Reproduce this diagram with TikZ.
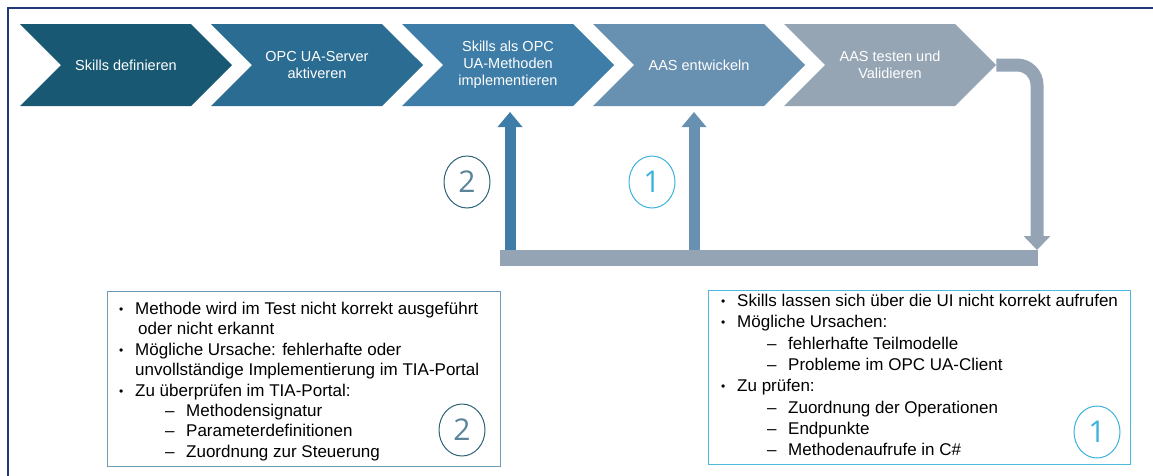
\documentclass[tikz,border=0pt]{standalone}
\usepackage{fontspec}
\setmainfont{Liberation Sans}
\newfontfamily\numfont{Open Sans}
\usepackage{xcolor}
\usepackage{tikz}
\usetikzlibrary{positioning, arrows.meta, shapes.symbols, shapes.geometric}

\definecolor{frameblue}{HTML}{1F3B7A}
\definecolor{chevA}{HTML}{185872}
\definecolor{chevB}{HTML}{2A6C92}
\definecolor{chevC}{HTML}{3E7DA7}
\definecolor{chevD}{HTML}{6890B0}
\definecolor{chevE}{HTML}{96A5B4}
\definecolor{loopgray}{HTML}{94A4B4}
\definecolor{ringdark}{HTML}{2E6276}
\definecolor{ringdarktext}{HTML}{5A8497}
\definecolor{ringcyan}{HTML}{3DB2DC}
\definecolor{boxsteel}{HTML}{6B9BB7}
\definecolor{boxcyan}{HTML}{4FB8DD}

\newcommand{\bul}[1]{\makebox[17pt][l]{\hspace*{1pt}\raisebox{1pt}{\fontsize{12}{12}\selectfont\textbullet}}#1}
\newcommand{\dsh}[1]{\hspace*{47pt}\makebox[21pt][l]{--}#1}

\begin{document}
\begin{tikzpicture}[x=1pt, y=-1pt,
  chev/.style={signal, signal to=east, signal from=west, minimum width=212pt,
    minimum height=82pt, inner sep=0pt, text=white, align=center,
    font=\fontsize{14.5}{16.8}\selectfont},
  loopline/.style={draw=loopgray, line width=13pt, rounded corners=20pt},
  barline/.style={draw=loopgray, line width=16pt},
  uparrow/.style={line width=11pt, -{Triangle[width=24pt,length=15pt]}},
  ring/.style={ellipse, draw, line width=1pt, minimum width=46pt, minimum height=52pt,
    inner sep=0pt, font=\numfont\fontsize{30}{30}\selectfont},
  notebox/.style={draw, line width=1.3pt, anchor=north west, inner sep=0pt},
  notetext/.style={align=left, anchor=north west, inner sep=0pt,
    font=\fontsize{17}{20.8}\selectfont}]
\useasboundingbox (0,0) rectangle (1153,475);
\draw[frameblue, line width=2.5pt] (8,8) rectangle (1170,490);

\node[chev, fill=chevA] (def) at (126,65) {Skills definieren};
\node[chev, fill=chevB] (srv) at (317,65) {OPC UA-Server\\aktiveren};
\node[chev, fill=chevC] (impl) at (508,65) {Skills als OPC\\UA-Methoden\\implementieren};
\node[chev, fill=chevD] (aas) at (699,65) {AAS entwickeln};
\node[chev, fill=chevE] (test) at (890,65) {AAS testen und\\Validieren};

\coordinate (loopend) at (1037,250);
\coordinate (barleft) at (500,258);
\coordinate (barright) at (1038,258);
\coordinate (foottwo) at (510,258);
\coordinate (tiptwo) at (510,112);
\coordinate (footone) at (694,258);
\coordinate (tipone) at (694,112);

\draw[loopline, -{Triangle[width=26pt,length=14pt]}] (test.east) -| (loopend);
\draw[uparrow, chevC] (foottwo) -- (tiptwo);
\draw[uparrow, chevD] (footone) -- (tipone);
\draw[barline] (barleft) -- (barright);

\node[ring, draw=ringdark, text=ringdarktext] (numtwo) at (467,182) {2};
\node[ring, draw=ringcyan, text=ringcyan] (numone) at (652,182) {1};

\node[notebox, draw=boxsteel, minimum width=393pt, minimum height=175pt] (notetwo) at (107,291) {};
\node[notetext, font=\fontsize{17}{20.4}\selectfont] (notetwotext) at (118,302) {\bul{Methode wird im Test nicht korrekt ausgeführt}\\
\hspace*{20pt}oder nicht erkannt\\
\bul{Mögliche Ursache: fehlerhafte oder}\\
\hspace*{17pt}unvollständige Implementierung im TIA-Portal\\
\bul{Zu überprüfen im TIA-Portal:}\\
\dsh{Methodensignatur}\\
\dsh{Parameterdefinitionen}\\
\dsh{Zuordnung zur Steuerung}};
\node[ring, draw=ringdark, text=ringdarktext] (boxnumtwo) at (462,430) {2};

\node[notebox, draw=boxcyan, minimum width=422pt, minimum height=174pt] (noteone) at (708,290) {};
\node[notetext, font=\fontsize{17}{21.3}\selectfont] (noteonetext) at (720,294) {\bul{Skills lassen sich über die UI nicht korrekt aufrufen}\\
\bul{Mögliche Ursachen:}\\
\dsh{fehlerhafte Teilmodelle}\\
\dsh{Probleme im OPC UA-Client}\\
\bul{Zu prüfen:}\\
\dsh{Zuordnung der Operationen}\\
\dsh{Endpunkte}\\
\dsh{Methodenaufrufe in C\#}};
\node[ring, draw=ringcyan, text=ringcyan] (boxnumone) at (1097,432) {1};
\end{tikzpicture}
\end{document}
